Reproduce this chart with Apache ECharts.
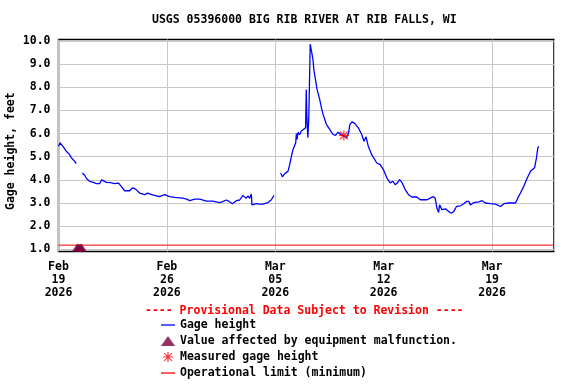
<!DOCTYPE html>
<html><head><meta charset="utf-8">
<script src="https://cdn.jsdelivr.net/npm/echarts@6/dist/echarts.min.js"></script>
<style>html,body{margin:0;padding:0;background:#fff}#c{width:576px;height:384px}</style>
</head><body><div id="c"></div>
<script>
const titleText = 'USGS 05396000 BIG RIB RIVER AT RIB FALLS, WI';
const provisionalText = '---- Provisional Data Subject to Revision ----';
const yAxisName = 'Gage height, feet';
const seriesNames = ['Gage height', 'Value affected by equipment malfunction.', 'Measured gage height', 'Operational limit (minimum)'];
const monthNames = ['Jan','Feb','Mar','Apr','May','Jun','Jul','Aug','Sep','Oct','Nov','Dec'];
const xStart = '2026-02-19T00:00';
const xEnd = '2026-03-23T00:00';
const yMin = 1, yMax = 10, yStep = 1;

const gageTimes = [
'2026-02-19T00:00','2026-02-19T02:30','2026-02-19T04:50','2026-02-19T08:00','2026-02-19T12:00','2026-02-19T14:30',
'2026-02-19T17:00','2026-02-19T20:00','2026-02-19T23:30','2026-02-20T03:40','2026-02-20T08:00',
'2026-02-20T13:00','2026-02-20T16:30','2026-02-20T19:40','2026-02-21T00:15','2026-02-21T04:50','2026-02-21T11:00',
'2026-02-21T15:50','2026-02-21T18:50','2026-02-21T21:50','2026-02-22T02:30','2026-02-22T08:50','2026-02-22T15:00',
'2026-02-22T18:00','2026-02-22T21:10','2026-02-23T01:50','2026-02-23T06:30','2026-02-23T14:20','2026-02-23T19:00',
'2026-02-23T23:30','2026-02-24T05:50','2026-02-24T13:30','2026-02-24T18:10','2026-02-25T00:20','2026-02-25T12:40',
'2026-02-25T20:30','2026-02-26T04:10','2026-02-26T12:00','2026-02-27T00:30','2026-02-27T06:40','2026-02-27T11:20',
'2026-02-27T19:10','2026-02-28T03:00','2026-02-28T13:10','2026-02-28T23:00','2026-03-01T09:50','2026-03-01T14:30',
'2026-03-01T20:10','2026-03-01T23:50','2026-03-02T05:30','2026-03-02T11:40','2026-03-02T16:50','2026-03-02T21:50',
'2026-03-03T02:10','2026-03-03T06:00','2026-03-03T08:20','2026-03-03T10:50','2026-03-03T11:50','2026-03-03T18:40',
'2026-03-03T23:50','2026-03-04T04:50','2026-03-04T12:40','2026-03-04T18:00','2026-03-04T22:00','2026-03-05T03:00',
'2026-03-05T08:20','2026-03-05T11:00','2026-03-05T14:40','2026-03-05T19:40','2026-03-05T22:20','2026-03-06T01:00',
'2026-03-06T03:30','2026-03-06T07:40','2026-03-06T08:40','2026-03-06T09:50','2026-03-06T11:20','2026-03-06T13:40',
'2026-03-06T16:00','2026-03-06T18:40','2026-03-06T23:00','2026-03-07T00:00','2026-03-07T01:00','2026-03-07T02:30',
'2026-03-07T04:00','2026-03-07T06:10','2026-03-07T08:40','2026-03-07T10:20','2026-03-07T12:00','2026-03-07T14:40',
'2026-03-07T16:40','2026-03-07T20:50','2026-03-07T23:30','2026-03-08T02:00','2026-03-08T07:10','2026-03-08T12:20',
'2026-03-08T17:30','2026-03-08T21:20','2026-03-09T01:30','2026-03-09T05:40','2026-03-09T10:20','2026-03-09T14:30',
'2026-03-09T17:40','2026-03-09T19:40','2026-03-09T23:10','2026-03-10T03:30','2026-03-10T08:40','2026-03-10T14:00',
'2026-03-10T17:30','2026-03-10T20:40','2026-03-11T00:10','2026-03-11T05:30','2026-03-11T13:20','2026-03-11T18:30',
'2026-03-11T23:40','2026-03-12T05:00','2026-03-12T10:10','2026-03-12T14:20','2026-03-12T17:50','2026-03-12T21:20',
'2026-03-13T00:30','2026-03-13T04:20','2026-03-13T09:20','2026-03-13T14:30','2026-03-13T19:40','2026-03-13T22:20',
'2026-03-14T03:30','2026-03-14T08:40','2026-03-14T19:10','2026-03-15T00:10','2026-03-15T04:20','2026-03-15T07:50',
'2026-03-15T10:30','2026-03-15T13:10','2026-03-15T14:40','2026-03-15T18:20','2026-03-15T23:50','2026-03-16T04:50',
'2026-03-16T09:00','2026-03-16T12:30','2026-03-16T16:50','2026-03-16T23:00','2026-03-17T04:10','2026-03-17T08:20',
'2026-03-17T11:50','2026-03-17T14:30','2026-03-17T19:40','2026-03-17T22:20','2026-03-18T03:30','2026-03-18T08:40',
'2026-03-18T13:40','2026-03-18T21:40','2026-03-19T05:20','2026-03-19T13:10','2026-03-19T18:20','2026-03-20T02:00',
'2026-03-20T12:20','2026-03-20T15:50','2026-03-20T20:00','2026-03-21T01:10','2026-03-21T06:30','2026-03-21T11:40',
'2026-03-21T17:50','2026-03-21T20:50','2026-03-21T23:00','2026-03-22T00:30'
];
const gageValues = [
5.45,5.6,5.6,5.4,5.24,5.31,
5.1,4.95,4.85,4.7,null,
4.3,4.2,4.05,3.94,3.9,3.84,
3.84,4.0,3.97,3.89,3.88,3.84,
3.9,3.86,3.7,3.53,3.53,3.66,
3.6,3.43,3.36,3.43,3.36,3.28,
3.36,3.28,3.24,3.21,3.17,3.1,
3.17,3.17,3.08,3.08,3.02,3.06,
3.13,3.08,2.97,3.1,3.13,3.33,
3.21,3.3,3.2,3.39,2.92,2.97,
2.95,2.95,3.02,3.14,3.33,null,
4.3,4.13,4.27,4.37,4.66,5.02,
5.31,5.6,6.0,5.75,6.05,5.95,
6.1,6.18,6.25,7.9,6.69,5.82,
6.76,9.87,9.8,9.22,8.71,8.28,
7.92,7.48,7.12,6.83,6.4,6.18,
5.96,5.92,6.06,5.96,5.89,5.82,
6.04,6.4,6.51,6.43,6.25,5.96,
5.67,5.86,5.45,5.09,4.73,4.66,
4.44,4.08,3.87,3.94,3.79,3.87,
4.01,3.89,3.58,3.36,3.26,3.21,
3.26,3.14,3.14,3.21,3.28,3.21,
2.78,2.59,2.92,2.71,2.75,2.63,
2.56,2.63,2.85,2.88,2.97,3.07,
3.07,2.92,3.02,2.97,3.05,3.1,
3.0,2.97,2.95,2.85,2.97,3.0,
3.0,3.21,3.43,3.72,4.08,4.37,
4.52,4.95,5.39,5.45
];
const malfunctionTimes = ['2026-02-20T04:40','2026-02-20T07:00','2026-02-20T09:30','2026-02-20T12:00'];
const malfunctionValues = [1.08, 1.08, 1.08, 1.08];
const measuredTimes = ['2026-03-09T10:20'];
const measuredValues = [5.92];
const operationalLimit = 1.18;

const toMs = s => Date.parse(s + ':00Z');
const xMin = toMs(xStart), xMax = toMs(xEnd);
const WEEK = 7 * 86400000;
const pair = (ts, vs) => ts.map((t, i) => [toMs(t), vs[i] === null ? '-' : vs[i]]);

const FONT = '"DejaVu Sans Mono", "Liberation Mono", monospace';
const txt = { fontFamily: FONT, fontWeight: 'bold', fontSize: 11.5, color: '#000' };
const asterisk = 'path://M4.4,0L5.6,0L5.6,10L4.4,10Z M0,4.4L10,4.4L10,5.6L0,5.6Z M0.8,1.6L1.6,0.8L9.2,8.4L8.4,9.2Z M8.4,0.8L9.2,1.6L1.6,9.2L0.8,8.4Z';
const lineIcon = 'path://M0,0L14,0L14,1.3L0,1.3Z';

const chart = echarts.init(document.getElementById('c'), null, { renderer: 'canvas' });
chart.setOption({
  animation: false,
  backgroundColor: '#fff',
  title: [
    { text: titleText, left: 152, top: 14, padding: 0, textStyle: Object.assign({}, txt, { lineHeight: 12 }) },
    { text: provisionalText, left: 145, top: 305, padding: 0, textStyle: Object.assign({}, txt, { color: '#ff0000', lineHeight: 12 }) }
  ],
  grid: [
    { left: 58.5, right: 22, top: 39.5, bottom: 132.5, show: true, borderColor: '#000', borderWidth: 1.5,
      backgroundColor: 'transparent', containLabel: false, outerBoundsMode: 'none' },
    { left: 58.5, right: 22, top: 41, bottom: 134.7, containLabel: false, outerBoundsMode: 'none' }
  ],
  xAxis: [
    { gridIndex: 0, type: 'value', min: xMin, max: xMax, interval: WEEK,
      axisLine: { show: false }, axisTick: { show: false },
      splitLine: { show: true, lineStyle: { color: '#c8c8c8', width: 1 } },
      axisLabel: Object.assign({}, txt, { lineHeight: 13, margin: 9, showMaxLabel: false,
        formatter: v => { const d = new Date(v); return monthNames[d.getUTCMonth()] + '\n' + String(d.getUTCDate()).padStart(2, '0') + '\n' + d.getUTCFullYear(); } }) },
    { gridIndex: 1, type: 'value', min: xMin, max: xMax, show: false }
  ],
  yAxis: [
    { gridIndex: 0, type: 'value', min: 0, max: 1, show: false },
    { gridIndex: 1, type: 'value', min: yMin, max: yMax, interval: yStep,
      axisLine: { show: false }, axisTick: { show: false },
      splitLine: { show: true, lineStyle: { color: '#c8c8c8', width: 1 } },
      axisLabel: Object.assign({}, txt, { margin: 8, formatter: v => v.toFixed(1) }),
      name: yAxisName, nameLocation: 'middle', nameGap: 41, nameMoveOverlap: false,
      nameTextStyle: Object.assign({}, txt, { padding: [0, 12, 0, 0] }) }
  ],
  legend: {
    orient: 'vertical', left: 161, top: 319, padding: 0, itemWidth: 14, itemHeight: 10, itemGap: 4,
    selectedMode: false, textStyle: Object.assign({}, txt, { lineHeight: 12 }),
    data: [
      { name: seriesNames[0], icon: lineIcon, itemStyle: { color: '#0000ff', borderWidth: 0 } },
      { name: seriesNames[1] },
      { name: seriesNames[2] },
      { name: seriesNames[3], icon: lineIcon, itemStyle: { color: '#ff0000', borderWidth: 0 } }
    ]
  },
  series: [
    { name: seriesNames[0], type: 'line', xAxisIndex: 1, yAxisIndex: 1, symbol: 'none', connectNulls: false,
      color: '#0000ff', lineStyle: { color: '#0000ff', width: 1.3 }, data: pair(gageTimes, gageValues), z: 3 },
    { name: seriesNames[1], type: 'scatter', xAxisIndex: 1, yAxisIndex: 1, symbol: 'triangle', symbolSize: [10, 8],
      color: '#780038', itemStyle: { color: '#780038' }, data: pair(malfunctionTimes, malfunctionValues), z: 4 },
    { name: seriesNames[2], type: 'scatter', xAxisIndex: 1, yAxisIndex: 1, symbol: asterisk, symbolSize: 10,
      color: '#ff0000', itemStyle: { color: '#ff0000' }, data: pair(measuredTimes, measuredValues), z: 5 },
    { name: seriesNames[3], type: 'line', xAxisIndex: 1, yAxisIndex: 1, symbol: 'none',
      color: '#ff0000', lineStyle: { color: '#ff0000', width: 1 }, data: [[xMin, operationalLimit], [xMax, operationalLimit]], z: 2 }
  ]
});
</script></body></html>
